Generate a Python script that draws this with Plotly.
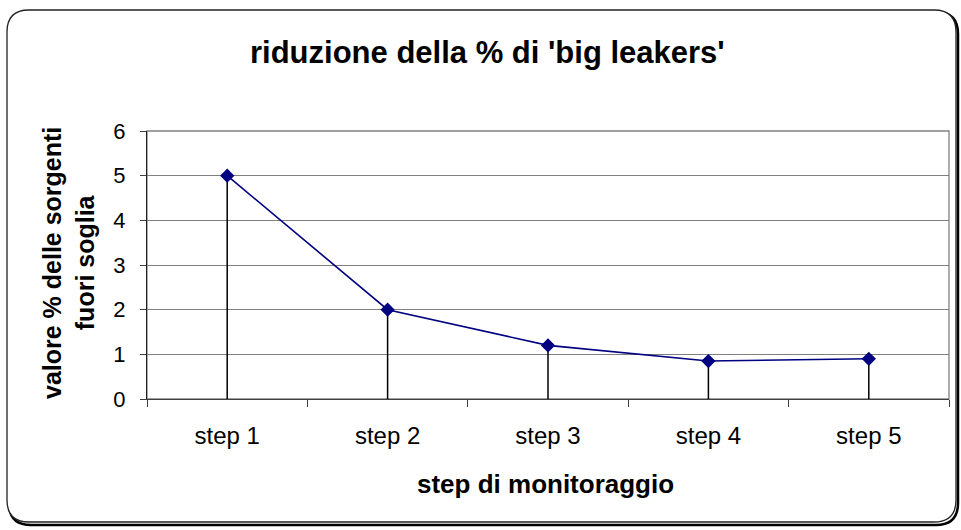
import plotly.graph_objects as go

categories = ["step 1", "step 2", "step 3", "step 4", "step 5"]
values = [5.0, 2.0, 1.2, 0.85, 0.9]
y_ticks = [0, 1, 2, 3, 4, 5, 6]

title_text = "riduzione della % di 'big leakers'"
x_title = "step di monitoraggio"
y_title = "valore % delle sorgenti<br>fuori soglia"

W, H = 961, 530
L, R, T, B = 147, 12, 131, 131
PW, PH = W - L - R, H - T - B

def px(x):
    return (x - L) / PW

def py(y):
    return (H - B - y) / PH

FONT = "Arial, Liberation Sans, sans-serif"

fig = go.Figure()

# drop lines from 0 to each value
fig.add_trace(go.Scatter(
    x=categories, y=[0] * len(values),
    mode="markers", marker=dict(size=0.1, color="rgba(0,0,0,0)"),
    error_y=dict(type="data", symmetric=False, array=values, arrayminus=[0] * len(values),
                 color="black", thickness=1.5, width=0),
    hoverinfo="skip", showlegend=False,
))

fig.add_trace(go.Scatter(
    x=categories, y=values, mode="lines+markers",
    line=dict(color="#000080", width=1.6),
    marker=dict(symbol="diamond", size=11, color="#000080"),
    showlegend=False,
))

# rounded chart border
def rounded(x0, y0, x1, y1, r):
    X = lambda v: px(v)
    Y = lambda v: py(v)
    return (f"M {X(x0+r)},{Y(y0)} L {X(x1-r)},{Y(y0)} Q {X(x1)},{Y(y0)} {X(x1)},{Y(y0+r)} "
            f"L {X(x1)},{Y(y1-r)} Q {X(x1)},{Y(y1)} {X(x1-r)},{Y(y1)} "
            f"L {X(x0+r)},{Y(y1)} Q {X(x0)},{Y(y1)} {X(x0)},{Y(y1-r)} "
            f"L {X(x0)},{Y(y0+r)} Q {X(x0)},{Y(y0)} {X(x0+r)},{Y(y0)} Z")

shapes = [
    dict(type="path", xref="paper", yref="paper", path=rounded(9, 12, 958, 525, 22),
         line=dict(color="black", width=2.5), layer="below"),
    dict(type="path", xref="paper", yref="paper", path=rounded(7, 10, 956, 522, 22),
         line=dict(color="#222222", width=1.3), fillcolor="white", layer="below"),
    dict(type="rect", xref="paper", yref="paper", x0=0, x1=1, y0=0, y1=1,
         line=dict(color="#808080", width=1.3), layer="below"),
]

fig.update_layout(
    width=W, height=H,
    margin=dict(l=L, r=R, t=T, b=B),
    paper_bgcolor="white",
    plot_bgcolor="rgba(0,0,0,0)",
    font=dict(family=FONT, color="black", size=22),
    shapes=shapes,
    annotations=[
        dict(text=f"<b>{title_text}</b>", xref="paper", yref="paper",
             x=px(487), y=py(53), showarrow=False, font=dict(size=31, family=FONT),
             xanchor="center", yanchor="middle"),
        dict(text=f"<b>{x_title}</b>", xref="paper", yref="paper",
             x=px(545), y=py(484), showarrow=False, font=dict(size=26, family=FONT),
             xanchor="center", yanchor="middle"),
        dict(text=f"<b>{y_title}</b>", xref="paper", yref="paper",
             x=px(68), y=py(263), showarrow=False, textangle=-90,
             font=dict(size=25, family=FONT), xanchor="center", yanchor="middle"),
    ],
    xaxis=dict(
        type="category", range=[-0.5, 4.5], tickson="boundaries",
        ticks="outside", ticklen=7, tickcolor="#404040", tickwidth=1.3,
        showline=True, linecolor="#404040", linewidth=1.3,
        showgrid=False, zeroline=False,
        tickfont=dict(size=24, family=FONT), ticklabelstandoff=15,
    ),
    yaxis=dict(
        range=[0, 6], tickvals=y_ticks, ticks="outside", ticklen=6,
        tickcolor="#404040", tickwidth=1.3,
        showline=True, linecolor="#202020", linewidth=1.3,
        showgrid=True, gridcolor="#808080", gridwidth=1.3,
        zeroline=False, tickfont=dict(size=22, family=FONT), ticklabelstandoff=10,
    ),
)

fig.write_html("out.html", config={"displayModeBar": False},
               post_script="document.body.style.margin='0';")
